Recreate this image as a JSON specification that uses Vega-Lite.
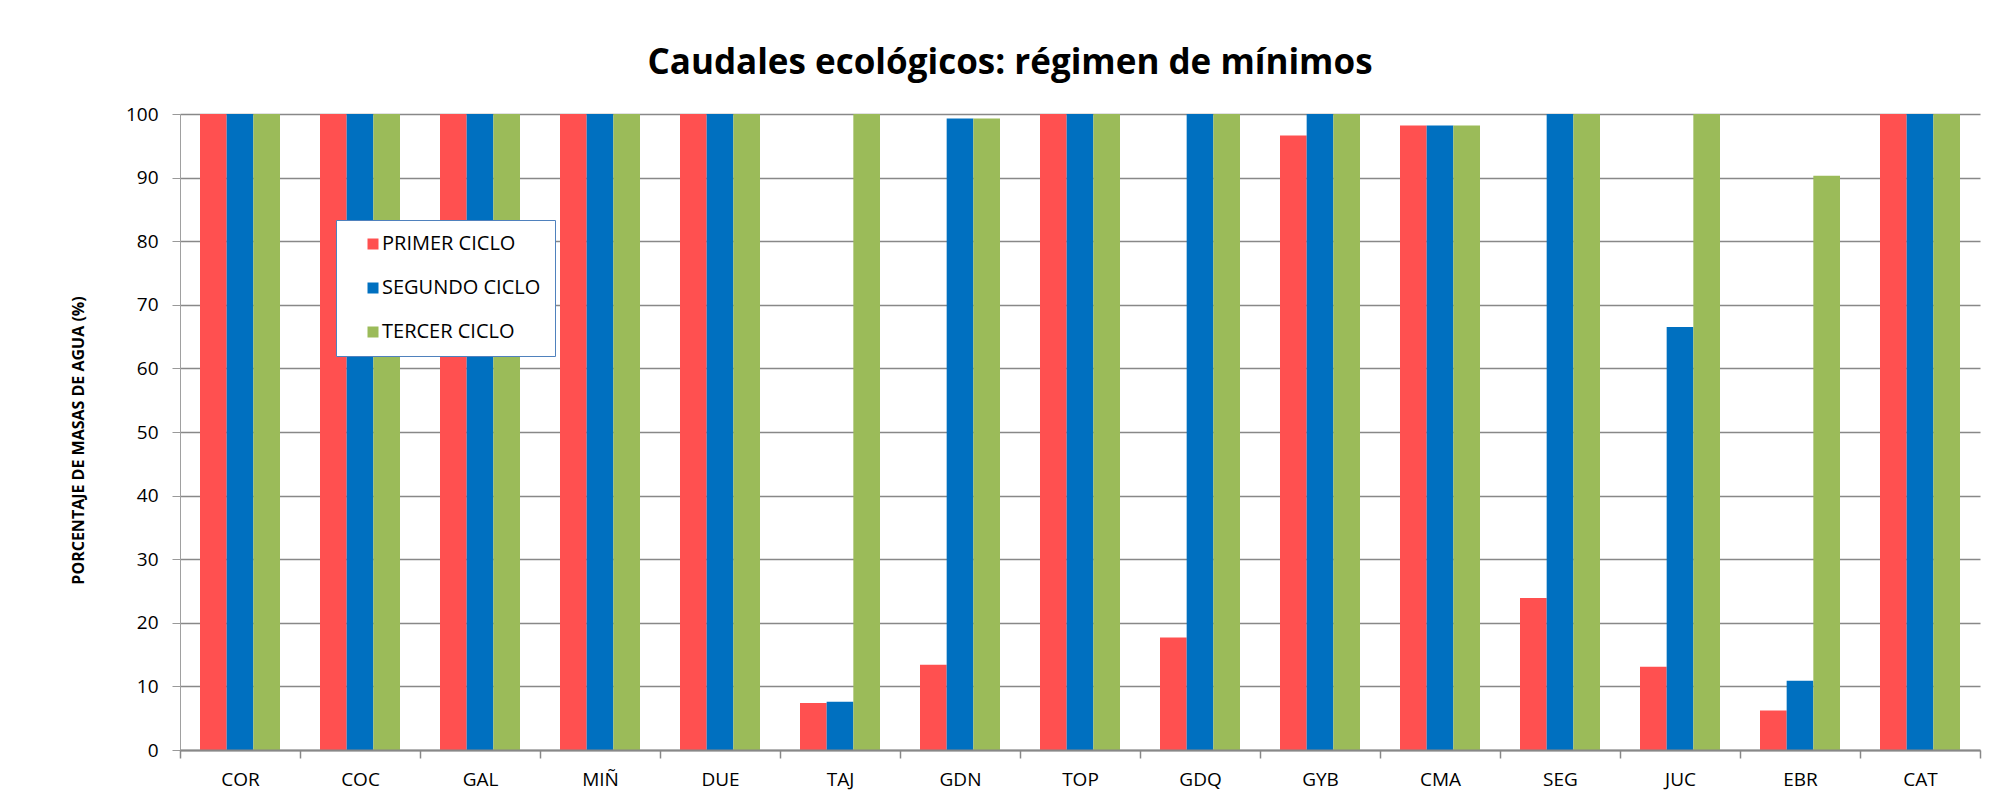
{
  "$schema": "https://vega.github.io/schema/vega-lite/v6.json",
  "width": 1800,
  "height": 636,
  "autosize": {"type": "none"},
  "padding": {"left": 180, "top": 114, "right": 17, "bottom": 62},
  "background": "white",
  "title": {
    "text": "Caudales ecológicos: régimen de mínimos",
    "font": "Open Sans",
    "fontSize": 35,
    "fontWeight": "bold",
    "color": "#000000",
    "anchor": "middle",
    "baseline": "alphabetic",
    "offset": -4,
    "dx": -70
  },
  "data": {
    "values": [
      {"demarcacion": "COR", "ciclo": "PRIMER CICLO", "porcentaje": 100},
      {"demarcacion": "COR", "ciclo": "SEGUNDO CICLO", "porcentaje": 100},
      {"demarcacion": "COR", "ciclo": "TERCER CICLO", "porcentaje": 100},
      {"demarcacion": "COC", "ciclo": "PRIMER CICLO", "porcentaje": 100},
      {"demarcacion": "COC", "ciclo": "SEGUNDO CICLO", "porcentaje": 100},
      {"demarcacion": "COC", "ciclo": "TERCER CICLO", "porcentaje": 100},
      {"demarcacion": "GAL", "ciclo": "PRIMER CICLO", "porcentaje": 100},
      {"demarcacion": "GAL", "ciclo": "SEGUNDO CICLO", "porcentaje": 100},
      {"demarcacion": "GAL", "ciclo": "TERCER CICLO", "porcentaje": 100},
      {"demarcacion": "MIÑ", "ciclo": "PRIMER CICLO", "porcentaje": 100},
      {"demarcacion": "MIÑ", "ciclo": "SEGUNDO CICLO", "porcentaje": 100},
      {"demarcacion": "MIÑ", "ciclo": "TERCER CICLO", "porcentaje": 100},
      {"demarcacion": "DUE", "ciclo": "PRIMER CICLO", "porcentaje": 100},
      {"demarcacion": "DUE", "ciclo": "SEGUNDO CICLO", "porcentaje": 100},
      {"demarcacion": "DUE", "ciclo": "TERCER CICLO", "porcentaje": 100},
      {"demarcacion": "TAJ", "ciclo": "PRIMER CICLO", "porcentaje": 7.4},
      {"demarcacion": "TAJ", "ciclo": "SEGUNDO CICLO", "porcentaje": 7.6},
      {"demarcacion": "TAJ", "ciclo": "TERCER CICLO", "porcentaje": 100},
      {"demarcacion": "GDN", "ciclo": "PRIMER CICLO", "porcentaje": 13.4},
      {"demarcacion": "GDN", "ciclo": "SEGUNDO CICLO", "porcentaje": 99.3},
      {"demarcacion": "GDN", "ciclo": "TERCER CICLO", "porcentaje": 99.3},
      {"demarcacion": "TOP", "ciclo": "PRIMER CICLO", "porcentaje": 100},
      {"demarcacion": "TOP", "ciclo": "SEGUNDO CICLO", "porcentaje": 100},
      {"demarcacion": "TOP", "ciclo": "TERCER CICLO", "porcentaje": 100},
      {"demarcacion": "GDQ", "ciclo": "PRIMER CICLO", "porcentaje": 17.7},
      {"demarcacion": "GDQ", "ciclo": "SEGUNDO CICLO", "porcentaje": 100},
      {"demarcacion": "GDQ", "ciclo": "TERCER CICLO", "porcentaje": 100},
      {"demarcacion": "GYB", "ciclo": "PRIMER CICLO", "porcentaje": 96.6},
      {"demarcacion": "GYB", "ciclo": "SEGUNDO CICLO", "porcentaje": 100},
      {"demarcacion": "GYB", "ciclo": "TERCER CICLO", "porcentaje": 100},
      {"demarcacion": "CMA", "ciclo": "PRIMER CICLO", "porcentaje": 98.2},
      {"demarcacion": "CMA", "ciclo": "SEGUNDO CICLO", "porcentaje": 98.2},
      {"demarcacion": "CMA", "ciclo": "TERCER CICLO", "porcentaje": 98.2},
      {"demarcacion": "SEG", "ciclo": "PRIMER CICLO", "porcentaje": 23.9},
      {"demarcacion": "SEG", "ciclo": "SEGUNDO CICLO", "porcentaje": 100},
      {"demarcacion": "SEG", "ciclo": "TERCER CICLO", "porcentaje": 100},
      {"demarcacion": "JUC", "ciclo": "PRIMER CICLO", "porcentaje": 13.1},
      {"demarcacion": "JUC", "ciclo": "SEGUNDO CICLO", "porcentaje": 66.5},
      {"demarcacion": "JUC", "ciclo": "TERCER CICLO", "porcentaje": 100},
      {"demarcacion": "EBR", "ciclo": "PRIMER CICLO", "porcentaje": 6.2},
      {"demarcacion": "EBR", "ciclo": "SEGUNDO CICLO", "porcentaje": 10.9},
      {"demarcacion": "EBR", "ciclo": "TERCER CICLO", "porcentaje": 90.3},
      {"demarcacion": "CAT", "ciclo": "PRIMER CICLO", "porcentaje": 100},
      {"demarcacion": "CAT", "ciclo": "SEGUNDO CICLO", "porcentaje": 100},
      {"demarcacion": "CAT", "ciclo": "TERCER CICLO", "porcentaje": 100}
    ]
  },
  "mark": {"type": "bar"},
  "encoding": {
    "x": {
      "field": "demarcacion",
      "type": "nominal",
      "sort": ["COR", "COC", "GAL", "MIÑ", "DUE", "TAJ", "GDN", "TOP", "GDQ", "GYB", "CMA", "SEG", "JUC", "EBR", "CAT"],
      "scale": {"paddingInner": 0, "paddingOuter": 0},
      "axis": {
        "title": null,
        "labelAngle": 0,
        "tickBand": "extent",
        "ticks": true,
        "tickSize": 8,
        "tickColor": "#888888",
        "tickWidth": 1.5,
        "domainColor": "#888888",
        "domainWidth": 2,
        "labelFont": "Open Sans",
        "labelFontSize": 19,
        "labelColor": "#000000",
        "labelPadding": 12,
        "grid": false,
        "zindex": 1
      }
    },
    "xOffset": {
      "field": "ciclo",
      "type": "nominal",
      "sort": ["PRIMER CICLO", "SEGUNDO CICLO", "TERCER CICLO"],
      "scale": {"paddingInner": 0, "paddingOuter": 0.75}
    },
    "y": {
      "field": "porcentaje",
      "type": "quantitative",
      "scale": {"domain": [0, 100], "nice": false},
      "axis": {
        "title": "PORCENTAJE DE MASAS DE AGUA (%)",
        "titleFont": "Open Sans",
        "titleFontSize": 16,
        "titleFontWeight": "bold",
        "titleColor": "#000000",
        "titlePadding": 39,
        "titleY": 326,
        "values": [0, 10, 20, 30, 40, 50, 60, 70, 80, 90, 100],
        "grid": true,
        "gridColor": "#888888",
        "gridWidth": 1.5,
        "tickSize": 8,
        "tickColor": "#999999",
        "domainColor": "#a0a0a0",
        "domainWidth": 1,
        "labelFont": "Open Sans",
        "labelFontSize": 19,
        "labelColor": "#000000",
        "labelPadding": 14
      }
    },
    "color": {
      "field": "ciclo",
      "type": "nominal",
      "scale": {
        "domain": ["PRIMER CICLO", "SEGUNDO CICLO", "TERCER CICLO"],
        "range": ["#ff5050", "#0070c0", "#9bbb59"]
      },
      "legend": {
        "title": null,
        "orient": "none",
        "legendX": 156,
        "legendY": 106,
        "direction": "vertical",
        "fillColor": "white",
        "strokeColor": "#4f81bd",
        "padding": 14,
        "symbolType": "square",
        "symbolSize": 121,
        "symbolStrokeWidth": 0,
        "symbolOffset": 13,
        "labelOffset": -1,
        "labelFont": "Open Sans",
        "labelFontSize": 20,
        "labelColor": "#000000",
        "rowPadding": 24
      }
    }
  },
  "config": {"view": {"stroke": null}}
}
